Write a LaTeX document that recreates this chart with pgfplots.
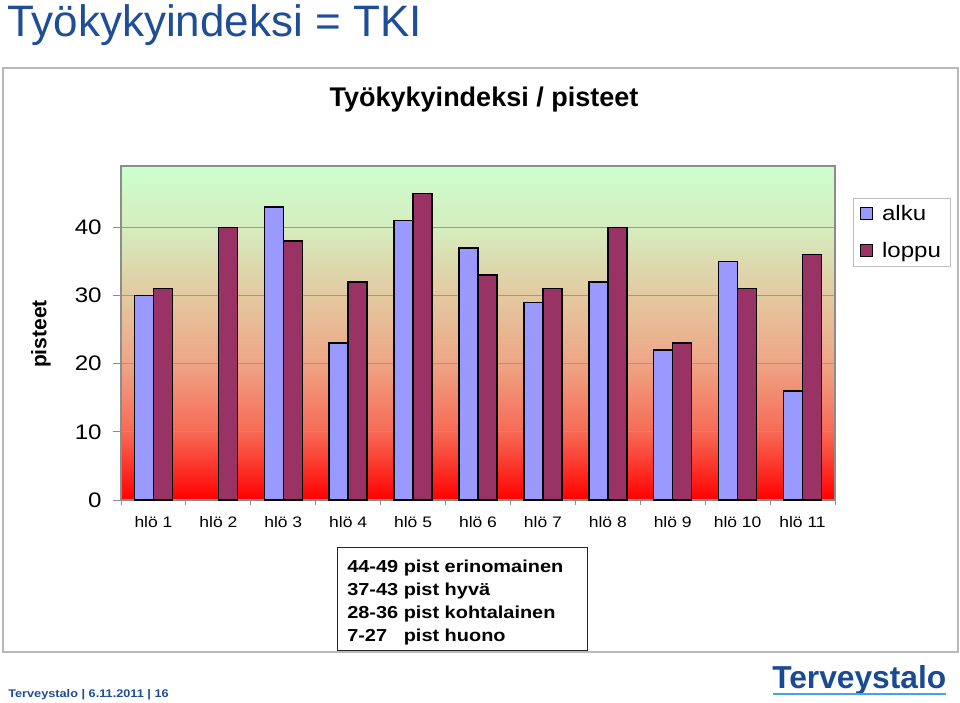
\documentclass[border=0pt]{standalone}
\usepackage{pgfplots}
\pgfplotsset{compat=1.18}
\usepackage{fontspec}
\setmainfont{Liberation Sans}
\newfontfamily\wide{Liberation Sans}[FakeStretch=1.15]
\definecolor{alku}{HTML}{9999FF}
\definecolor{loppu}{HTML}{993366}
\definecolor{tkblue}{HTML}{1F4E96}
\definecolor{logoblue}{HTML}{1B4A94}
\definecolor{logolight}{HTML}{46A5DE}
\definecolor{g0}{HTML}{FF0000}
\definecolor{g1}{HTML}{F76A55}
\definecolor{g2}{HTML}{EEA585}
\definecolor{g3}{HTML}{E3C9A0}
\definecolor{g4}{HTML}{D5EDBF}
\definecolor{g5}{HTML}{CCFFCC}
\pgfdeclareverticalshading{tki}{100bp}{color(0bp)=(g0); color(25bp)=(g0); color(35.2bp)=(g1); color(45.4bp)=(g2); color(55.6bp)=(g3); color(65.8bp)=(g4); color(75bp)=(g5); color(100bp)=(g5)}
\tikzset{pxs/.style={x=0.75pt,y=-0.75pt,xshift=-90.75pt,yshift=375pt}}
\begin{document}
\begin{tikzpicture}
\begin{scope}[pxs]
\fill[white] (0,0) rectangle (960,703);
\draw[gray!55, line width=0.8pt] (3,68) rectangle (958,652);
\end{scope}
\begin{axis}[
  scale only axis, width=535.5pt, height=250.5pt,
  xmin=-0.5, xmax=10.5, ymin=0, ymax=49,
  axis background/.style={shade, shading=tki},
  ybar=0pt, bar width=14.25pt,
  xtick={0,...,10},
  xticklabels={hlö 1,hlö 2,hlö 3,hlö 4,hlö 5,hlö 6,hlö 7,hlö 8,hlö 9,hlö 10,hlö 11},
  major x tick style={draw=none},
  minor xtick={-0.5,0.5,...,10.5},
  minor tick length=4pt,
  ytick={0,10,20,30,40},
  major tick length=6pt,
  tick align=outside, tick pos=left,
  ymajorgrids, grid style={color=black!40, line width=0.7pt},
  axis line style={color=black!45, line width=0.8pt},
  tick style={color=black!45, line width=0.7pt},
  /pgf/number format/assume math mode=true,
  yticklabel style={font=\wide\fontsize{15.75pt}{18pt}\selectfont, xshift=-5pt},
  xticklabel style={font=\wide\fontsize{11.4pt}{14pt}\selectfont, yshift=-3pt},
  legend style={at={(rel axis cs:1.0252,0.9042)}, anchor=north west,
    draw=black!25, fill=white, font=\wide\fontsize{15.7pt}{18pt}\selectfont,
    row sep=11pt, column sep=5pt, inner xsep=5pt, inner ysep=3pt},
  legend cell align=left,
]
\addplot[fill=alku, draw=black, line width=1.1pt,
  legend image code/.code={\draw[fill=alku,draw=black,line width=0.6pt] (0pt,-4.5pt) rectangle (9pt,4.5pt);}]
  coordinates {(0,30) (2,43) (3,23) (4,41) (5,37) (6,29) (7,32) (8,22) (9,35) (10,16)};
\addplot[fill=loppu, draw=black, line width=1.1pt,
  legend image code/.code={\draw[fill=loppu,draw=black,line width=0.6pt] (0pt,-4.5pt) rectangle (9pt,4.5pt);}]
  coordinates {(0,31) (1,40) (2,38) (3,32) (4,45) (5,33) (6,31) (7,40) (8,23) (9,31) (10,36)};
\legend{alku,loppu}
\end{axis}
\begin{scope}[pxs]
\node[anchor=base west, inner sep=0pt, text=tkblue, font=\fontsize{33pt}{38pt}\selectfont] at (7,37) {Työkykyindeksi = TKI};
\node[anchor=base, inner sep=0pt, font=\bfseries\fontsize{20.25pt}{24pt}\selectfont] at (484,107) {Työkykyindeksi / pisteet};
\node[anchor=center, rotate=90, inner sep=0pt, font=\bfseries\fontsize{15.8pt}{18pt}\selectfont] at (41,334) {pisteet};
\node[draw=black!85, line width=1pt, anchor=north west, minimum width=187.5pt, minimum height=77pt, inner sep=0pt] at (337,547) {};
\node[anchor=north west, inner sep=0pt, align=left, font=\wide\bfseries\fontsize{13pt}{17.25pt}\selectfont] at (347,556)
 {\begin{tabular}{@{}l@{\ }l@{}}44-49 & pist erinomainen\\37-43 & pist hyvä\\28-36 & pist kohtalainen\\7-27 & pist huono\end{tabular}};
\node[anchor=base west, inner sep=0pt, text=tkblue, font=\wide\bfseries\fontsize{8.3pt}{10pt}\selectfont] at (8,697) {Terveystalo | 6.11.2011 | 16};
\node[anchor=base west, inner sep=0pt, text=logoblue, font=\bfseries\fontsize{23.8pt}{26pt}\selectfont] at (772,688) {Terveystalo};
\draw[logolight, line width=2pt] (773,694) -- (946,694);
\end{scope}
\end{tikzpicture}
\end{document}
